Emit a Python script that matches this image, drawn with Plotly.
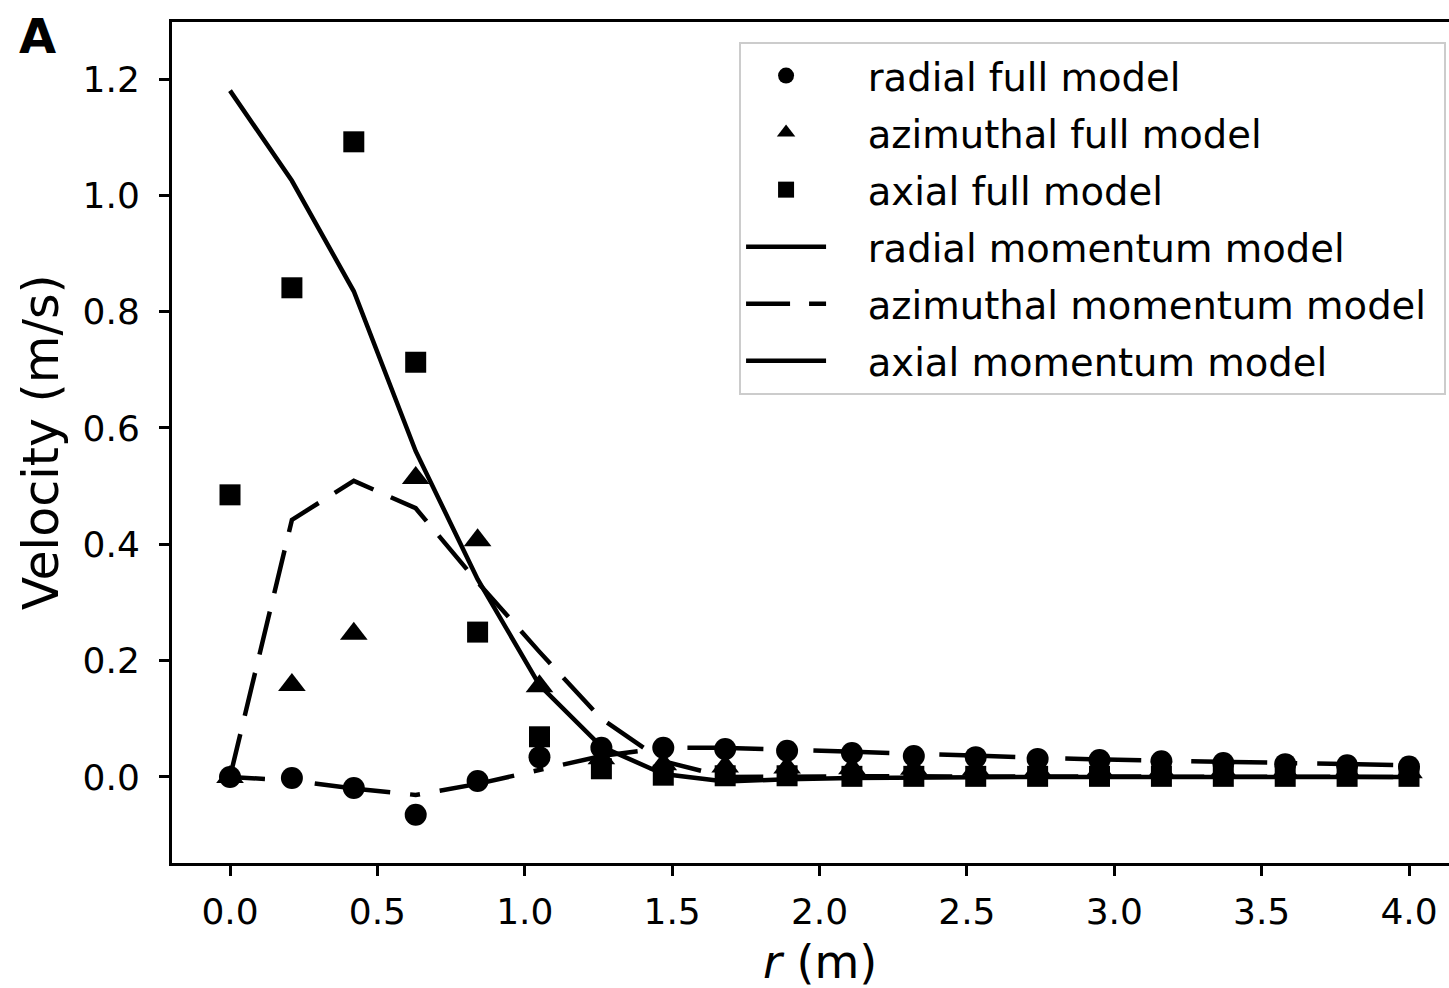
import plotly.graph_objects as go

# ---- data ----
r_vals = [0.0, 0.21, 0.42, 0.63, 0.84, 1.05, 1.26, 1.47, 1.68, 1.89,
          2.11, 2.32, 2.53, 2.74, 2.95, 3.16, 3.37, 3.58, 3.79, 4.0]

radial_full = [0.0, -0.002, -0.019, -0.065, -0.007, 0.034, 0.050, 0.050, 0.048, 0.045,
               0.041, 0.036, 0.034, 0.031, 0.029, 0.027, 0.024, 0.022, 0.020, 0.018]
azimuthal_full = [0.0, 0.158, 0.246, 0.514, 0.407, 0.156, 0.032, 0.022, 0.018, 0.016,
                  0.015, 0.014, 0.013, 0.012, 0.011, 0.010, 0.010, 0.009, 0.009, 0.008]
axial_full = [0.485, 0.841, 1.092, 0.713, 0.249, 0.069, 0.014, 0.003, 0.002, 0.002,
              0.001, 0.001, 0.001, 0.001, 0.001, 0.001, 0.001, 0.001, 0.001, 0.001]

radial_momentum = [0.0, -0.006, -0.020, -0.031, -0.012, 0.012, 0.036, 0.050, 0.050, 0.047,
                   0.043, 0.039, 0.036, 0.033, 0.030, 0.028, 0.026, 0.024, 0.022, 0.020]
azimuthal_momentum = [0.0, 0.442, 0.509, 0.462, 0.335, 0.215, 0.100, 0.027, 0.000, 0.001,
                      0.001, 0.001, 0.001, 0.001, 0.001, 0.000, 0.000, 0.000, 0.000, 0.000]
axial_momentum = [1.18, 1.025, 0.835, 0.56, 0.34, 0.158, 0.052, 0.005, -0.008, -0.004,
                  -0.002, -0.001, -0.001, 0.0, 0.0, 0.0, 0.0, 0.0, 0.0, 0.0]

x_ticks = [0.0, 0.5, 1.0, 1.5, 2.0, 2.5, 3.0, 3.5, 4.0]
y_ticks = [0.0, 0.2, 0.4, 0.6, 0.8, 1.0, 1.2]

labels = ["radial full model", "azimuthal full model", "axial full model",
          "radial momentum model", "azimuthal momentum model", "axial momentum model"]

# ---- style ----
FONT = "DejaVu Sans"
BLACK = "#000000"
LW = 4.5
PAD = "\u00a0\u00a0\u00a0"
TAIL = "\u00a0"

fig = go.Figure()

# model lines (drawn, legend handled separately)
fig.add_trace(go.Scatter(x=r_vals, y=radial_momentum, mode="lines", showlegend=False,
                         line=dict(color=BLACK, width=LW, dash="35px,20px,10px,20px,41px,0px")))
fig.add_trace(go.Scatter(x=r_vals, y=azimuthal_momentum, mode="lines", showlegend=False,
                         line=dict(color=BLACK, width=LW, dash="44px,19px")))
fig.add_trace(go.Scatter(x=r_vals, y=axial_momentum, mode="lines", showlegend=False,
                         line=dict(color=BLACK, width=LW)))

# full-model markers
fig.add_trace(go.Scatter(x=r_vals, y=radial_full, mode="markers", name=PAD + labels[0] + TAIL,
                         legendgroup="g1",
                         marker=dict(symbol="circle", size=22, color=BLACK)))
fig.add_trace(go.Scatter(x=r_vals, y=azimuthal_full, mode="markers", name=PAD + labels[1] + TAIL,
                         legendgroup="g2",
                         marker=dict(symbol="triangle-up", size=24, color=BLACK)))
fig.add_trace(go.Scatter(x=r_vals, y=axial_full, mode="markers", name=PAD + labels[2] + TAIL,
                         legendgroup="g3",
                         marker=dict(symbol="square", size=21, color=BLACK)))

# legend entries for the model lines
fig.add_trace(go.Scatter(x=[None], y=[None], mode="lines", name=PAD + labels[3] + TAIL,
                         legendgroup="g4", line=dict(color=BLACK, width=LW)))
fig.add_trace(go.Scatter(x=[None], y=[None], mode="lines", name=PAD + labels[4] + TAIL,
                         legendgroup="g5", line=dict(color=BLACK, width=LW, dash="44px,19px")))
fig.add_trace(go.Scatter(x=[None], y=[None], mode="lines", name=PAD + labels[5] + TAIL,
                         legendgroup="g6", line=dict(color=BLACK, width=LW)))

fig.update_layout(
    width=1449, height=988,
    margin=dict(l=172, r=0, t=22, b=125),
    paper_bgcolor="white", plot_bgcolor="white",
    font=dict(family=FONT, color=BLACK, size=36),
    showlegend=True,
    legend=dict(
        x=0.9977, y=0.9762, xanchor="right", yanchor="top",
        bgcolor="white", bordercolor="#cccccc", borderwidth=2,
        font=dict(family=FONT, size=38.5, color=BLACK),
        itemwidth=80, tracegroupgap=4, traceorder="grouped",
    ),
    xaxis=dict(
        range=[-0.1968, 4.1357], tickvals=x_ticks, tickformat=".1f",
        showgrid=False, zeroline=False,
        showline=True, linecolor=BLACK, linewidth=3, mirror=True,
        ticks="outside", ticklen=10, tickwidth=3, tickcolor=BLACK,
        tickfont=dict(family=FONT, size=36, color=BLACK),
        ticklabelstandoff=5,
    ),
    yaxis=dict(
        range=[-0.148, 1.298], tickvals=y_ticks, tickformat=".1f",
        showgrid=False, zeroline=False,
        showline=True, linecolor=BLACK, linewidth=3, mirror=False,
        ticks="outside", ticklen=10, tickwidth=3, tickcolor=BLACK,
        tickfont=dict(family=FONT, size=36, color=BLACK),
        ticklabelstandoff=12,
    ),
    annotations=[
        dict(text="<i>r</i> (m)", xref="paper", yref="paper", x=0.5074, y=-0.118,
             xanchor="center", yanchor="middle", showarrow=False,
             font=dict(family=FONT, size=46, color=BLACK)),
        dict(text="Velocity (m/s)", xref="paper", yref="paper", x=-0.102, y=0.5,
             xanchor="center", yanchor="middle", textangle=-90, showarrow=False,
             font=dict(family=FONT, size=49, color=BLACK)),
        dict(text="<b>A</b>", xref="paper", yref="paper", x=-0.105, y=0.983,
             xanchor="center", yanchor="middle", showarrow=False,
             font=dict(family=FONT, size=48, color=BLACK)),
    ],
)

fig.write_html("out.html")
